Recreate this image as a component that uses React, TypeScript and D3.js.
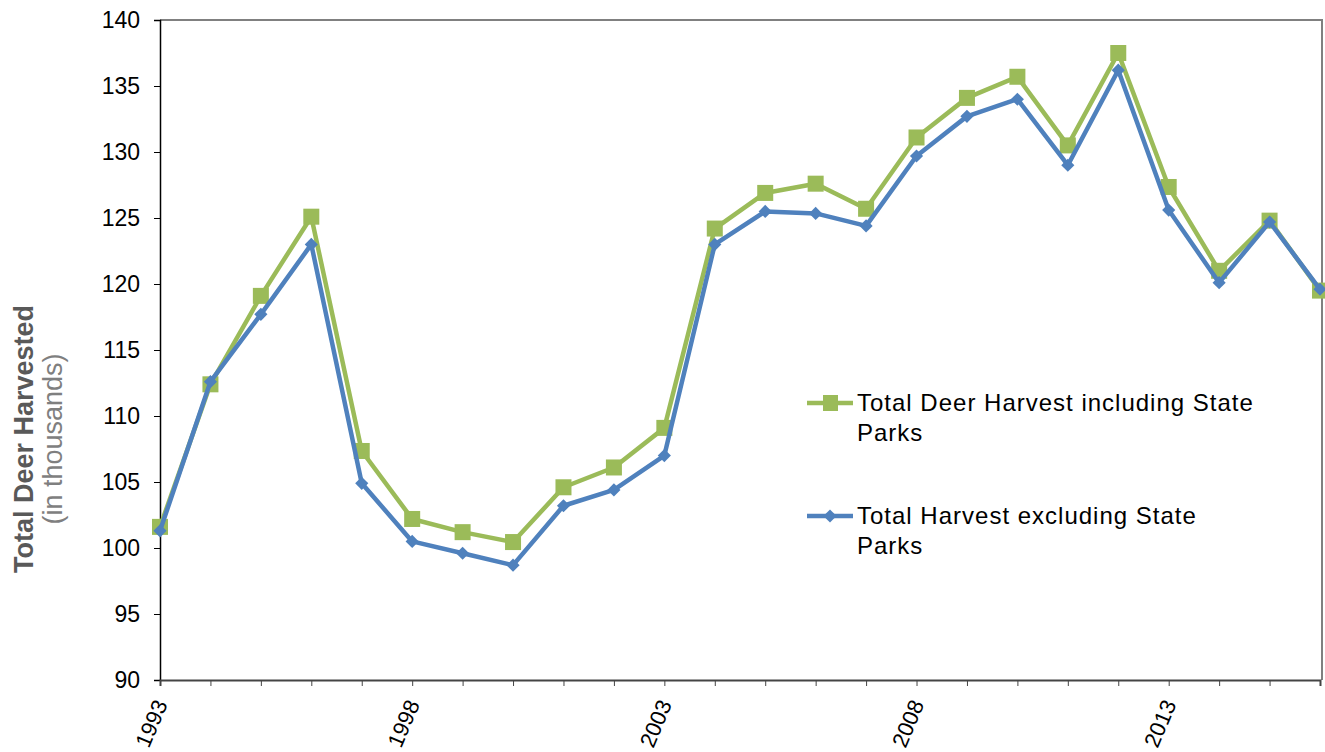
import { useEffect, useRef } from "react";
import * as d3 from "d3";

const years = d3.range(1993, 2017);
const inclParks = [
  101.6, 112.4, 119.1, 125.1, 107.35, 102.2, 101.2, 100.45, 104.6, 106.1, 109.1, 124.2,
  126.9, 127.6, 125.7, 131.1, 134.1, 135.7, 130.5, 137.5, 127.35, 121.0, 124.8, 119.5,
];
const exclParks = [
  101.3, 112.6, 117.7, 123.0, 104.9, 100.5, 99.6, 98.7, 103.2, 104.4, 107.0, 123.0,
  125.5, 125.35, 124.4, 129.7, 132.7, 134.0, 129.0, 136.2, 125.6, 120.1, 124.7, 119.6,
];
const yTicks = d3.range(90, 141, 5);
const xLabelYears = [1993, 1998, 2003, 2008, 2013];

const GREEN = "#9BBB59";
const BLUE = "#4F81BD";
const FONT = "'Liberation Sans', Arial, sans-serif";

export default function App() {
  const svgRef = useRef<SVGSVGElement | null>(null);

  useEffect(() => {
    if (!svgRef.current) return;
    const width = 1325;
    const height = 752;
    const left = 160, right = 1320, top = 20, bottom = 680;

    const svg = d3.select(svgRef.current);
    svg.selectAll("*").remove();
    svg.attr("width", width).attr("height", height);

    const x = d3.scaleLinear().domain([1993, 2016]).range([left, right]);
    const y = d3.scaleLinear().domain([90, 140]).range([bottom, top]);

    // frame: top and right in grey
    svg.append("path")
      .attr("d", `M${left},${top}H${right + 2}V${bottom}`)
      .attr("fill", "none")
      .attr("stroke", "#808080")
      .attr("stroke-width", 2);

    // y axis
    const yAxis = svg.append("g").attr("transform", `translate(${left},0)`)
      .call(d3.axisLeft(y).tickValues(yTicks).tickSize(6).tickPadding(14));
    yAxis.select(".domain").attr("stroke", "#000").attr("stroke-width", 1.5);
    yAxis.selectAll(".tick line").attr("stroke", "#000");
    yAxis.selectAll("text").attr("font-family", FONT).attr("font-size", 23).attr("fill", "#000");

    // x axis
    const xAxis = svg.append("g").attr("transform", `translate(0,${bottom})`)
      .call(d3.axisBottom(x).tickValues(years).tickSize(6).tickFormat(() => ""));
    xAxis.select(".domain").attr("stroke", "#444").attr("stroke-width", 2);
    xAxis.selectAll(".tick line").attr("stroke", "#444");

    svg.append("g").selectAll("text")
      .data(xLabelYears)
      .enter()
      .append("text")
      .attr("transform", d => `translate(${x(d) + 8},${bottom + 24}) rotate(-67)`)
      .attr("text-anchor", "end")
      .attr("font-family", FONT)
      .attr("font-size", 22)
      .attr("fill", "#000")
      .text(d => String(d));

    // y title
    const title = svg.append("text")
      .attr("transform", `translate(33,439) rotate(-90)`)
      .attr("text-anchor", "middle")
      .attr("font-family", FONT);
    title.append("tspan").attr("x", 0).attr("dy", 0)
      .attr("font-size", 27).attr("font-weight", 700).attr("fill", "#595959")
      .text("Total Deer Harvested");
    title.append("tspan").attr("x", 0).attr("dy", 29)
      .attr("font-size", 27).attr("fill", "#7f7f7f")
      .text("(in thousands)");

    const line = d3.line<number>().x((_, i) => x(years[i])).y(d => y(d));

    // green series
    svg.append("path")
      .datum(inclParks)
      .attr("d", line)
      .attr("fill", "none")
      .attr("stroke", GREEN)
      .attr("stroke-width", 4.5)
      .attr("stroke-linejoin", "round");
    svg.append("g").selectAll("rect")
      .data(inclParks)
      .enter()
      .append("rect")
      .attr("x", (_, i) => x(years[i]) - 8)
      .attr("y", d => y(d) - 8)
      .attr("width", 16)
      .attr("height", 16)
      .attr("fill", GREEN);

    // blue series
    svg.append("path")
      .datum(exclParks)
      .attr("d", line)
      .attr("fill", "none")
      .attr("stroke", BLUE)
      .attr("stroke-width", 4.5)
      .attr("stroke-linejoin", "round");
    const diamond = d3.symbol().type(d3.symbolDiamond2).size(110);
    svg.append("g").selectAll("path")
      .data(exclParks)
      .enter()
      .append("path")
      .attr("d", diamond)
      .attr("transform", (d, i) => `translate(${x(years[i])},${y(d)})`)
      .attr("fill", BLUE);

    // legend
    const legend = [
      { color: GREEN, lines: ["Total Deer Harvest including State", "Parks"], y: 403, square: true },
      { color: BLUE, lines: ["Total Harvest excluding State", "Parks"], y: 516, square: false },
    ];
    legend.forEach(item => {
      const g = svg.append("g");
      g.append("line")
        .attr("x1", 807).attr("x2", 853)
        .attr("y1", item.y).attr("y2", item.y)
        .attr("stroke", item.color).attr("stroke-width", 4.5);
      if (item.square) {
        g.append("rect").attr("x", 823).attr("y", item.y - 8)
          .attr("width", 15).attr("height", 16).attr("fill", item.color);
      } else {
        g.append("path").attr("d", diamond)
          .attr("transform", `translate(830,${item.y})`).attr("fill", item.color);
      }
      item.lines.forEach((t, i) => {
        g.append("text")
          .attr("x", 857)
          .attr("y", item.y + 8 + i * 30)
          .attr("font-family", FONT)
          .attr("font-size", 24)
          .attr("letter-spacing", 1)
          .attr("fill", "#000")
          .text(t);
      });
    });
  }, []);

  return <svg ref={svgRef} style={{ position: "absolute", left: 0, top: 0 }} />;
}
